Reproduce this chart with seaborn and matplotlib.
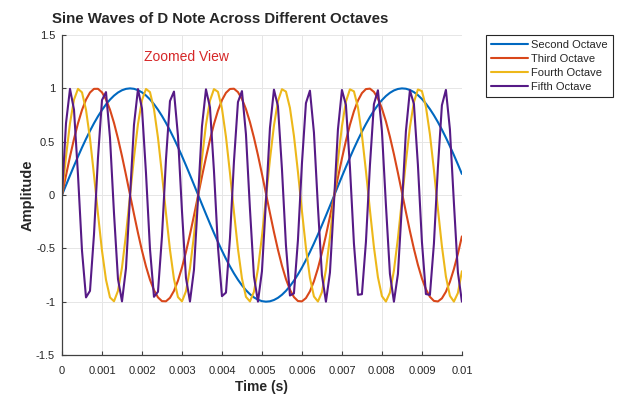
import numpy as np
import pandas as pd
import matplotlib
matplotlib.use("Agg")
import matplotlib.pyplot as plt
import seaborn as sns

# D note frequencies (Hz) for each octave shown
octaves = ["Second Octave", "Third Octave", "Fourth Octave", "Fifth Octave"]
freqs = [146.83, 293.66, 587.33, 1174.66]
colors = ["#0068C0", "#D9471A", "#EDB81A", "#561A86"]

# sampling used in the original (10 kHz over 10 ms)
fs = 10000
duration = 0.01

xticks = [0, 0.001, 0.002, 0.003, 0.004, 0.005, 0.006, 0.007, 0.008, 0.009, 0.01]
xticklabels = ["0", "0.001", "0.002", "0.003", "0.004", "0.005", "0.006",
               "0.007", "0.008", "0.009", "0.01"]
yticks = [-1.5, -1, -0.5, 0, 0.5, 1, 1.5]
yticklabels = ["-1.5", "-1", "-0.5", "0", "0.5", "1", "1.5"]

t = np.linspace(0, duration, int(round(duration * fs)) + 1)
frames = []
for name, f in zip(octaves, freqs):
    frames.append(pd.DataFrame({"t": t, "y": np.sin(2 * np.pi * f * t), "octave": name}))
df = pd.concat(frames, ignore_index=True)

sns.set_style("whitegrid")
plt.rcParams["font.family"] = ["Liberation Sans", "DejaVu Sans"]

fig = plt.figure(figsize=(6.2, 3.94), dpi=100)
ax = fig.add_axes([0.1, 0.099, 0.645, 0.812])

sns.lineplot(data=df, x="t", y="y", hue="octave", palette=colors,
             linewidth=1.5, ax=ax, legend=True)

ax.set_xlim(0, 0.01)
ax.set_ylim(-1.5, 1.5)
ax.set_xticks(xticks)
ax.set_xticklabels(xticklabels)
ax.set_yticks(yticks)
ax.set_yticklabels(yticklabels)
ax.tick_params(axis="both", direction="in", length=3, width=0.8, color="#404040",
               labelsize=8, labelcolor="#262626", bottom=True, left=True)
ax.tick_params(axis="x", pad=8)
ax.tick_params(axis="y", pad=5)
ax.grid(True, color="#e6e6e6", linewidth=0.7)
for side in ["top", "right"]:
    ax.spines[side].set_visible(False)
for side in ["left", "bottom"]:
    ax.spines[side].set_color("#404040")
    ax.spines[side].set_linewidth(0.9)

fig.text(0.355, 0.952, "Sine Waves of D Note Across Different Octaves",
         fontsize=10.8, fontweight="bold", ha="center", va="center")
ax.set_xlabel("Time (s)", fontsize=10, fontweight="bold", labelpad=2.5)
ax.set_ylabel("Amplitude", fontsize=10.5, fontweight="bold", labelpad=1)

ax.text(0.0031, 1.29, "Zoomed View", color="#D62728", fontsize=10,
        ha="center", va="center")

leg = ax.legend(loc="upper left", bbox_to_anchor=(0.784, 0.911),
                bbox_transform=fig.transFigure, fontsize=8, frameon=True,
                fancybox=False, edgecolor="#262626", framealpha=1,
                borderpad=0.45, labelspacing=0.35, handlelength=3.3,
                handletextpad=0.3, borderaxespad=0)
leg.get_frame().set_linewidth(0.8)

fig.savefig("out.png", dpi=100)
